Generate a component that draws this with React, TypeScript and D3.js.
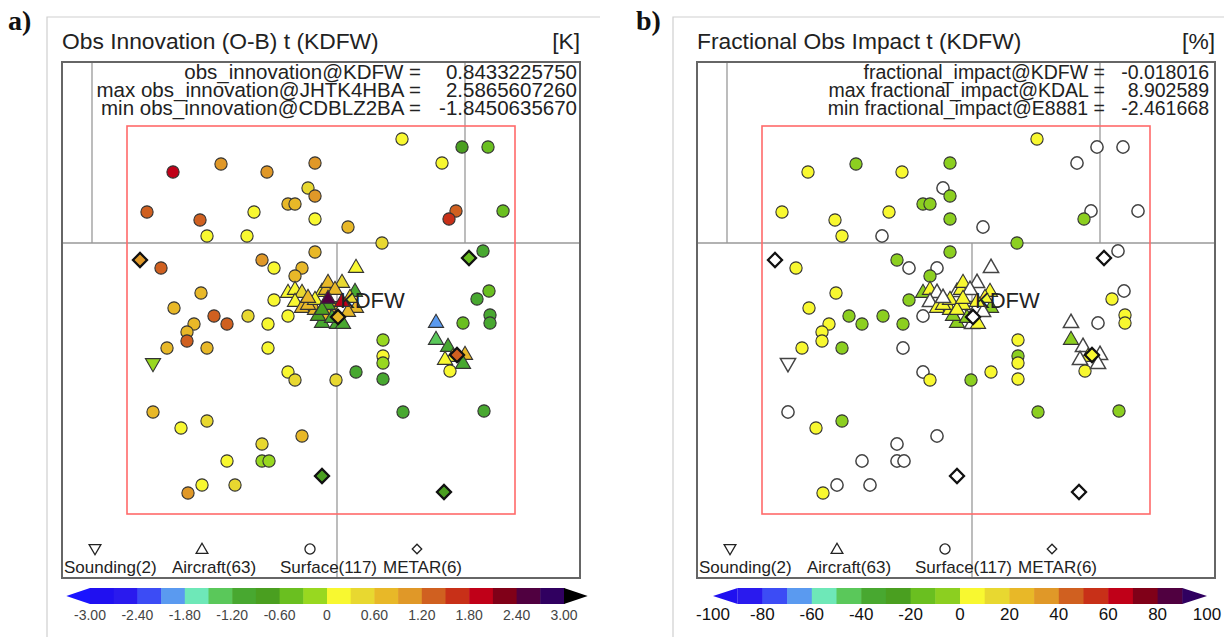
import * as d3 from "d3";

// ---- station data: km east / north of KDFW, O-B innovation [K], fractional obs impact [%]
const sfcEast = [65, 125, 151, 105, -164, -116, -70, -22, -29, -22, -49, -42, -190, -137, -83, -22, -130, -90, 11, 45, 119, 112, 166, -176, -75, -63, -35, -42, -22, 146, -136, -63, 152, 140, -163, -123, -110, -89, -69, -49, -143, -150, -150, -170, -130, -69, -49, -42, -1, 19, 46, 46, 46, 46, 126, 153, 153, 113, -184, -156, -130, -35, -75, -110, -75, -68, -135, -102, -149, 66, 147, -9];
const sfcNorth = [161, 153, 153, 137, 128, 136, 128, 137, 112, 104, 96, 96, 88, 80, 88, 81, 64, 64, 73, 57, 89, 81, 89, 32, 40, 32, 32, 24, 48, 49, 7, 0, 9, 1, -8, -16, -24, -16, -24, -16, -24, -32, -41, -48, -48, -48, -72, -80, -80, -72, -40, -56, -63, -79, -23, -15, -23, -71, -112, -128, -121, -136, -144, -161, -161, -161, -185, -185, -193, -112, -111, -15];
const sfcInnov = [0.12, -0.75, -0.45, 0.15, 1.95, 1.0, 0.95, 1.05, 0.45, 1.0, 0.75, 0.7, 1.3, 1.35, 0.2, 0.15, 0.1, 0.25, 0.7, 0.5, 1.4, 1.6, -0.4, 1.3, 1.0, 0.2, 0.8, 0.75, 0.65, -1.0, 0.8, 0.1, -0.4, -1.0, 0.7, 1.3, 1.4, 0.4, 0.2, 0.15, 0.75, 0.7, 1.3, 0.8, 0.75, 0.1, 0.2, 0.4, 0.55, -1.0, -0.2, 0.1, -0.15, -1.0, -0.5, -1.0, -1.05, 0.1, 0.75, 0.15, 0.4, 0.8, 0.35, 0.15, -0.2, -0.1, 0.2, 0.4, 1.0, -1.0, -1.05, 0.8];
const sfcImpact = [1.2, 0, 0, 0, 2.1, -1.1, 1.5, -0.9, 0, -0.8, -0.6, -0.5, 1.8, 1.4, 0.9, -0.7, 1.1, 0, 0, -1.3, 0, -0.4, 0, 0.7, -0.5, 0, 0, -0.6, -0.9, 0, 1.0, -0.4, 0, 0.6, 1.2, -0.7, -0.5, -0.6, -0.8, 0, 1.3, 0.8, 1.6, 1.1, -0.9, 0, 0, 0.7, -0.3, 0.5, 0.9, -0.6, 0.6, 1.0, 0, 0.5, 0.7, 0.8, 0, 1.1, -0.5, 0, 0, 0, 0, 0, 0, 0, 1.4, -1.2, -0.8, 0];

const sondeEast = [-184, -4];
const sondeNorth = [-63, -6];
const sondeInnov = [-0.2, 0.7];
const sondeImpact = [0, 0];

const acftEast = [19, -49, -42, -35, -42, -35, -22, -15, -29, -11, -9, 5, -2, 18, 19, -15, 0, 6, -22, -29, -9, -19, -5, 11, 13, -15, 111, 116, 128, 126, 108, 99, 99, -9, 5];
const acftNorth = [32, 7, 10, 7, -2, -8, -10, 8, -5, 10, 17, 17, 10, 8, -8, -23, -24, -24, 0, 2, -5, -16, -18, -12, 2, -10, -47, -57, -55, -64, -60, -23, -40, 1, -2];
const acftInnov = [0.1, 0.15, 0.15, 0.4, 0.2, 0.7, 0.75, 0.2, 0.8, 0.85, 0.7, 0.45, 0.7, -1.0, 0.7, -1.0, -0.95, -1.0, 0.2, 0.6, -0.7, -0.8, -1.1, 0.75, 0.4, -0.9, -1.0, 0.1, 0.75, -1.0, 0.2, -1.8450635670, -1.3, 2.5865607260, 1.9];
const acftImpact = [0, -0.5, 0.5, 0, 0, 0.6, 0.4, 0, 0.6, 0.6, 0.8, 0, 0, 0.7, -0.6, -0.7, 0, 0.5, 0.3, 0, 0.4, -0.5, -0.8, 0, 0.8, 0.7, 0, 0.6, 0, 0, 0, 0, -0.9, 0.5, 0.9];

const metarEast = [-197, 132, 120, -15, 107, 1];
const metarNorth = [40, 42, -55, -176, -192, -17];
const metarInnov = [1.0, -0.45, 1.3, -0.7, -0.75, 0.8433225750];
const metarImpact = [0, 0, 8.902589, 0, 0, -0.018016];

// boundary lines and inner domain, km relative to KDFW
const borderLines = [
  [[-275, 57], [243, 57]],
  [[-245, 238], [-245, 57]],
  [[128, 238], [128, 57]],
  [[0, 57], [0, -278]],
];
const innerWest = -210, innerEast = 178, innerNorth = 174, innerSouth = -214;

const innovStats = [
  ["obs_innovation@KDFW =", "0.8433225750"],
  ["max obs_innovation@JHTK4HBA =", "2.5865607260"],
  ["min obs_innovation@CDBLZ2BA =", "-1.8450635670"],
];
const impactStats = [
  ["fractional_impact@KDFW =", "-0.018016"],
  ["max fractional_impact@KDAL =", "8.902589"],
  ["min fractional_impact@E8881 =", "-2.461668"],
];
const legendLabels = ["Sounding(2)", "Aircraft(63)", "Surface(117)", "METAR(6)"];

const innovTicks = [-3, -2.4, -1.8, -1.2, -0.6, 0, 0.6, 1.2, 1.8, 2.4, 3];
const impactTicks = [-100, -80, -60, -40, -20, 0, 20, 40, 60, 80, 100];
const innovColors = ["#1a14ff", "#2010f0", "#2a1aee", "#3c4cf5", "#5a9af0", "#6ee8b8", "#5ac85a", "#48a830", "#4a9f20", "#6abf20", "#98d820", "#f8f830", "#e8d830", "#e8b828", "#e09828", "#d06020", "#c83018", "#c00018", "#800018", "#500040", "#300060", "#000000"];
const impactColors = ["#2010f0", "#2a1aee", "#3c4cf5", "#5a9af0", "#6ee8b8", "#5ac85a", "#48a830", "#4a9f20", "#6abf20", "#8ccf20", "#f8f830", "#e8d830", "#e8b828", "#e09828", "#d06020", "#c83018", "#c00018", "#800018", "#500040", "#300060"];

const innovEdges = d3.range(23).map((i) => +(-3.3 + 0.3 * i).toFixed(2));
const impactEdges = d3.range(21).map((i) => -100 + 10 * i);

const innovScale = d3.scaleThreshold<number, string>().domain(innovEdges.slice(1, -1)).range(innovColors);
const impactScale = d3.scaleThreshold<number, string>().domain(impactEdges.slice(1, -1)).range(impactColors);

const font = "'Liberation Sans', Arial, Helvetica, sans-serif";

// map scales (panel local, origin = map box top-left)
const xKm = d3.scaleLinear().domain([-275, 243]).range([0, 518]);
const yKm = d3.scaleLinear().domain([238, -278]).range([0, 516]);

const circlePath = d3.symbol(d3.symbolCircle, 118)() as string;
const triPath = d3.symbol(d3.symbolTriangle, 100)() as string;
const diaPath = d3.symbol(d3.symbolSquare, 100)() as string;

function Colorbar({ edges, colors, ticks, range, fmt, labelSize, labelFill }: any) {
  const x = d3.scaleLinear().domain([edges[1], edges[edges.length - 2]]).range(range);
  const top = 526, bot = 542, mid = 534;
  const n = edges.length - 1;
  return (
    <g>
      {d3.range(n).map((i) => {
        const lo = x(edges[i]), hi = x(edges[i + 1]);
        if (i === 0)
          return <polygon key={i} points={`${hi},${top} ${hi},${bot} ${lo},${mid}`} fill={colors[i]} />;
        if (i === n - 1)
          return <polygon key={i} points={`${lo},${top} ${lo},${bot} ${hi},${mid}`} fill={colors[i]} />;
        return <rect key={i} x={lo} y={top} width={hi - lo + 0.5} height={bot - top} fill={colors[i]} />;
      })}
      {ticks.map((t: number) => (
        <text key={t} x={x(t)} y={558} textAnchor="middle" fontSize={labelSize} fill={labelFill} fontFamily={font}>
          {fmt(t)}
        </text>
      ))}
    </g>
  );
}

function Panel(props: any) {
  const { ox, letter, letterDx, borderDx, title, units, stats, statSize, labelRight, valueRight, fill, vals, cb } = props;
  const mk = (v: number) => {
    const c = fill(v);
    return c === "none"
      ? { fill: "#fff", stroke: "#444", strokeWidth: 1.5 }
      : { fill: c, stroke: "#333", strokeWidth: 1.1 };
  };
  const kx = xKm(metarEast[5]), ky = yKm(metarNorth[5]);
  return (
    <g transform={`translate(${ox},62)`}>
      <path d={`M${borderDx},${640} V-45 H${props.borderRight}`} fill="none" stroke="#cfcfcf" strokeWidth={1.2} />
      <text x={letterDx} y={-32} fontFamily="'Liberation Serif', 'Times New Roman', serif" fontWeight="bold" fontSize={28} fill="#111">
        {letter}
      </text>
      <text x={0} y={-13} fontSize={22.8} fontFamily={font} fill="#222">{title}</text>
      <text x={518} y={-13} fontSize={22.8} fontFamily={font} fill="#222" textAnchor="end">{units}</text>

      {borderLines.map((l, i) => (
        <line key={i} x1={xKm(l[0][0])} y1={yKm(l[0][1])} x2={xKm(l[1][0])} y2={yKm(l[1][1])} stroke="#999" strokeWidth={1.3} />
      ))}
      <rect x={xKm(innerWest)} y={yKm(innerNorth)} width={xKm(innerEast) - xKm(innerWest)} height={yKm(innerSouth) - yKm(innerNorth)}
        fill="none" stroke="#ff6a6a" strokeWidth={1.6} />

      {stats.map((s: string[], i: number) => (
        <g key={i} fontSize={statSize} fontFamily={font} fill="#222">
          <text x={labelRight} y={17 + i * 18} textAnchor="end">{s[0]}</text>
          <text x={valueRight} y={17 + i * 18} textAnchor="end">{s[1]}</text>
        </g>
      ))}

      {sfcEast.map((e, i) => (
        <path key={"s" + i} d={circlePath} transform={`translate(${xKm(e)},${yKm(sfcNorth[i])})`} {...mk(vals.sfc[i])} />
      ))}
      {sondeEast.map((e, i) => (
        <path key={"r" + i} d={triPath} transform={`translate(${xKm(e)},${yKm(sondeNorth[i])}) rotate(180)`} {...mk(vals.sonde[i])} />
      ))}
      {acftEast.map((e, i) => (
        <path key={"a" + i} d={triPath} transform={`translate(${xKm(e)},${yKm(acftNorth[i])})`} {...mk(vals.acft[i])} />
      ))}
      {metarEast.map((e, i) => {
        const c = fill(vals.metar[i]);
        return (
          <path key={"m" + i} d={diaPath} transform={`translate(${xKm(e)},${yKm(metarNorth[i])}) rotate(45)`}
            fill={c === "none" ? "#fff" : c} stroke="#111" strokeWidth={2.2} />
        );
      })}
      <text x={kx + 2} y={ky - 9} fontSize={22} fontFamily={font} fill="#222">KDFW</text>

      {/* legend */}
      <g fill="none" stroke="#222" strokeWidth={1.3}>
        <path d={d3.symbol(d3.symbolTriangle, 60)() as string} transform="translate(33,486) rotate(180)" />
        <path d={d3.symbol(d3.symbolTriangle, 60)() as string} transform="translate(140,488)" />
        <path d={d3.symbol(d3.symbolCircle, 80)() as string} transform="translate(248,487)" />
        <path d={d3.symbol(d3.symbolSquare, 45)() as string} transform="translate(355,487) rotate(45)" />
      </g>
      {legendLabels.map((l, i) => (
        <text key={l} x={[2, 110, 218, 321][i]} y={511} fontSize={17} fontFamily={font} fill="#222">{l}</text>
      ))}

      <rect x={0} y={0} width={518} height={516} fill="none" stroke="#666" strokeWidth={2} />
      <Colorbar {...cb} />
    </g>
  );
}

export default function App() {
  const innovFill = (v: number) => innovScale(v);
  const impactFill = (v: number) => (Math.abs(v) < 0.05 ? "none" : impactScale(v));
  return (
    <svg width={1224} height={637} style={{ position: "absolute", left: 0, top: 0, background: "#fff" }}>
      <rect width={1224} height={637} fill="#fff" />
      <Panel
        ox={62} letter="a)" letterDx={-54} borderDx={-15} borderRight={538}
        title="Obs Innovation (O-B) t (KDFW)" units="[K]" stats={innovStats} statSize={20.5} labelRight={359} valueRight={515}
        fill={innovFill}
        vals={{ sfc: sfcInnov, sonde: sondeInnov, acft: acftInnov, metar: metarInnov }}
        cb={{ edges: innovEdges, colors: innovColors, ticks: innovTicks, range: [28, 502],
          fmt: (t: number) => (t === 0 ? "0" : t.toFixed(2)), labelSize: 14, labelFill: "#444" }}
      />
      <Panel
        ox={697} letter="b)" letterDx={-61} borderDx={-24} borderRight={600}
        title="Fractional Obs Impact t (KDFW)" units="[%]" stats={impactStats} statSize={19.5} labelRight={408} valueRight={512}
        fill={impactFill}
        vals={{ sfc: sfcImpact, sonde: sondeImpact, acft: acftImpact, metar: metarImpact }}
        cb={{ edges: impactEdges, colors: impactColors, ticks: impactTicks, range: [40.7, 485.3],
          fmt: (t: number) => String(t), labelSize: 17, labelFill: "#111" }}
      />
    </svg>
  );
}
